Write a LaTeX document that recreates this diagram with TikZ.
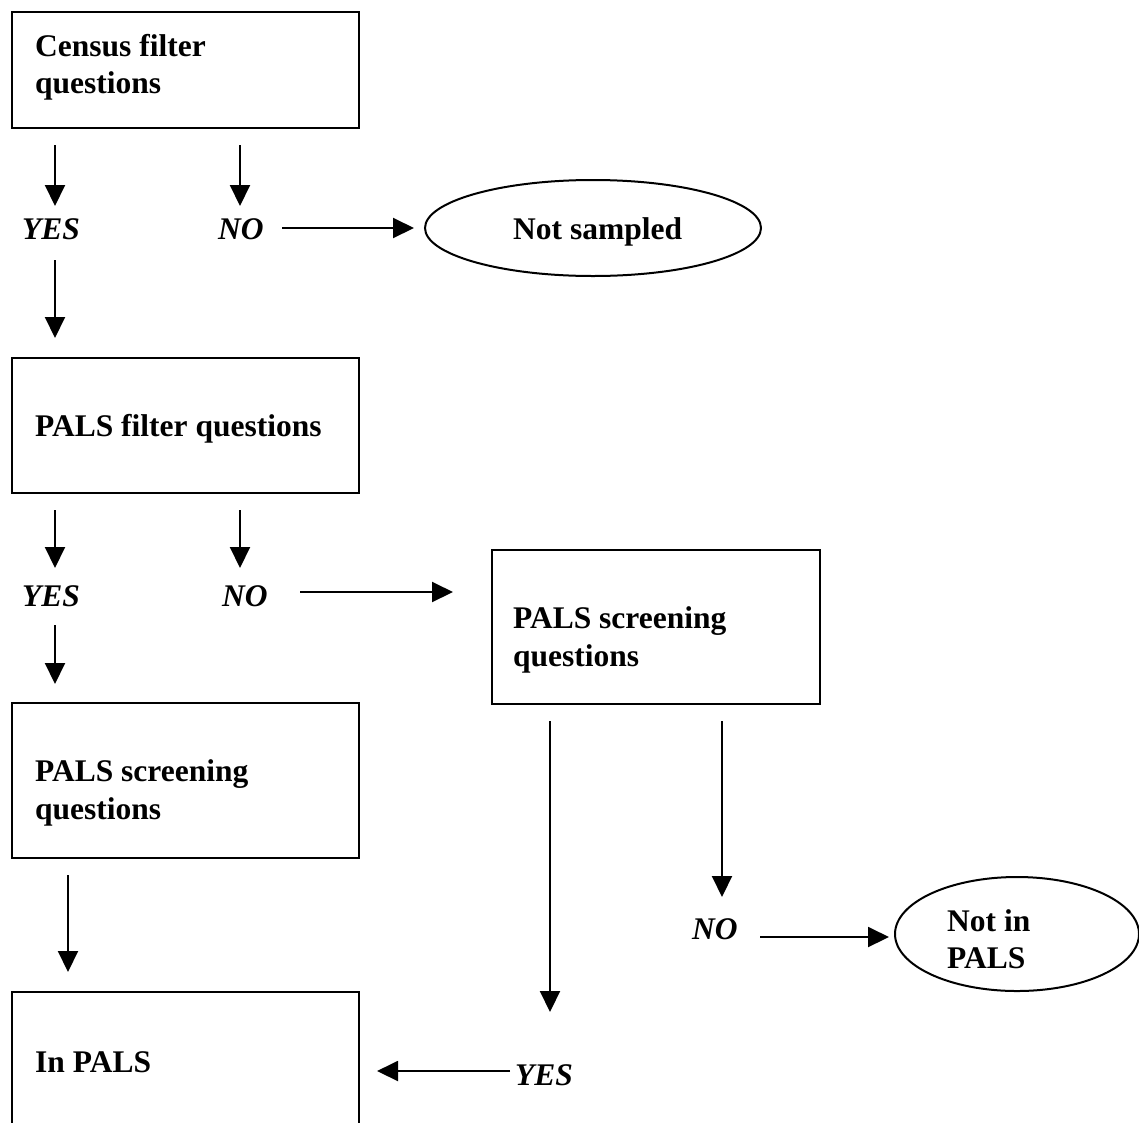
\documentclass[tikz,border=0pt]{standalone}
\usepackage{fontspec}
\setmainfont{Liberation Serif}
\usetikzlibrary{arrows.meta,shapes.geometric}
\begin{document}
\begin{tikzpicture}[x=1pt,y=-1pt,
  boxline/.style={line width=2pt},
  lbl/.style={anchor=base west,inner sep=0pt,font=\fontsize{31.5}{37}\selectfont\bfseries},
  yn/.style={anchor=base west,inner sep=0pt,font=\fontsize{31.5}{37}\selectfont\bfseries\itshape},
  arr/.style={line width=2pt,-{Triangle[length=21pt,width=20pt]}}]
\useasboundingbox (0,0) rectangle (1139,1122);
\clip (0,0) rectangle (1139,1122);
% boxes
\draw[boxline] (12,12) rectangle (359,128);
\draw[boxline] (12,358) rectangle (359,493);
\draw[boxline] (492,550) rectangle (820,704);
\draw[boxline] (12,703) rectangle (359,858);
\draw[boxline] (12,1140) -- (12,992) -- (359,992) -- (359,1140);
\draw[line width=2pt] (593,228) ellipse [x radius=168, y radius=48];
\draw[line width=2pt] (1017,934) ellipse [x radius=122, y radius=57];
% texts
\node[lbl] (t1a) at (35,56) {Census filter};
\node[lbl] (t1b) at (35,93) {questions};
\node[yn] (yes1) at (22,239) {YES};
\node[yn] (no1) at (218,239) {NO};
\node[lbl] (ns) at (513,239) {Not sampled};
\node[lbl] (t2) at (35,436) {PALS filter questions};
\node[yn] (yes2) at (22,606) {YES};
\node[yn] (no2) at (222,606) {NO};
\node[lbl] (t3a) at (513,628) {PALS screening};
\node[lbl] (t3b) at (513,666) {questions};
\node[lbl] (t4a) at (35,781) {PALS screening};
\node[lbl] (t4b) at (35,819) {questions};
\node[yn] (no3) at (692,939) {NO};
\node[lbl] (nip1) at (947,931) {Not in};
\node[lbl] (nip2) at (947,968) {PALS};
\node[lbl] (inp) at (35,1072) {In PALS};
\node[yn] (yes3) at (515,1085) {YES};
% arrow coordinates
\coordinate (a1s) at (55,145); \coordinate (a1e) at (55,206);
\coordinate (a2s) at (240,145); \coordinate (a2e) at (240,206);
\coordinate (a3s) at (282,228); \coordinate (a3e) at (414,228);
\coordinate (a4s) at (55,260); \coordinate (a4e) at (55,338);
\coordinate (a5s) at (55,510); \coordinate (a5e) at (55,568);
\coordinate (a6s) at (240,510); \coordinate (a6e) at (240,568);
\coordinate (a7s) at (300,592); \coordinate (a7e) at (453,592);
\coordinate (a8s) at (55,625); \coordinate (a8e) at (55,684);
\coordinate (a9s) at (68,875); \coordinate (a9e) at (68,972);
\coordinate (a10s) at (550,721); \coordinate (a10e) at (550,1012);
\coordinate (a11s) at (722,721); \coordinate (a11e) at (722,897);
\coordinate (a12s) at (760,937); \coordinate (a12e) at (889,937);
\coordinate (a13s) at (510,1071); \coordinate (a13e) at (377,1071);
\foreach \i in {1,...,13} {\draw[arr] (a\i s) -- (a\i e);}
\end{tikzpicture}
\end{document}
